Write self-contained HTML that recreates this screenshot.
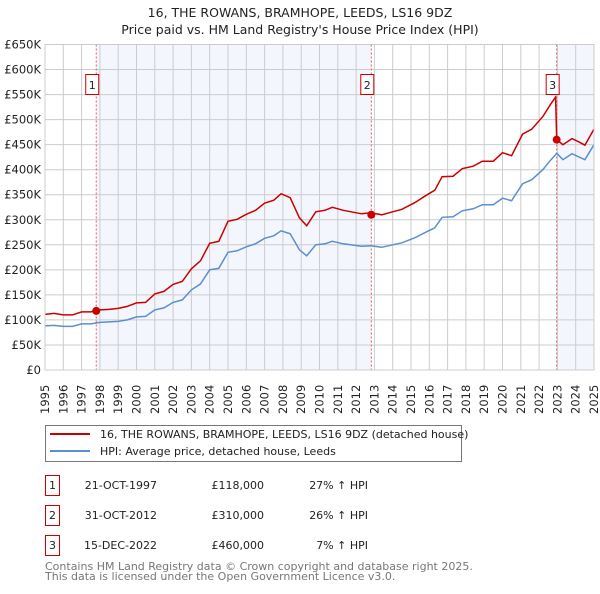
<!DOCTYPE html>
<html><head><meta charset="utf-8"><style>
body{margin:0;background:#fff;font-family:"DejaVu Sans","Liberation Sans",sans-serif;}
svg text{font-family:"DejaVu Sans","Liberation Sans",sans-serif;}
</style></head><body>
<svg id="c" width="600" height="590" xmlns="http://www.w3.org/2000/svg">
<text x="300" y="17" text-anchor="middle" font-size="12.5" fill="#222">16, THE ROWANS, BRAMHOPE, LEEDS, LS16 9DZ</text>
<text x="300" y="34" text-anchor="middle" font-size="12.5" fill="#222">Price paid vs. HM Land Registry's House Price Index (HPI)</text>
<g id="plot"></g>
<g>
<rect x="45.5" y="425.5" width="416" height="36" fill="#fff" stroke="#777"/>
<line x1="50" y1="434" x2="90" y2="434" stroke="#cc0000" stroke-width="2"/>
<text x="100" y="438" font-size="11" fill="#222">16, THE ROWANS, BRAMHOPE, LEEDS, LS16 9DZ (detached house)</text>
<line x1="50" y1="451" x2="90" y2="451" stroke="#5b8fd0" stroke-width="2"/>
<text x="100" y="455" font-size="11" fill="#222">HPI: Average price, detached house, Leeds</text>
</g>
<g id="table" font-size="11" fill="#222"></g>
<text x="45" y="570" font-size="11" fill="#777">Contains HM Land Registry data © Crown copyright and database right 2025.</text>
<text x="45" y="580" font-size="11" fill="#777">This data is licensed under the Open Government Licence v3.0.</text>
</svg>
<script>
const years=[1995,1995.5,1996,1996.5,1997,1997.5,1998,1998.5,1999,1999.5,2000,2000.5,2001,2001.5,2002,2002.5,2003,2003.5,2004,2004.5,2005,2005.5,2006,2006.5,2007,2007.5,2007.9,2008.4,2008.9,2009.3,2009.8,2010.3,2010.7,2011.3,2012.3,2012.8,2013.4,2014,2014.5,2015.2,2015.8,2016.3,2016.7,2017.3,2017.8,2018.4,2018.9,2019.5,2020,2020.5,2021.1,2021.6,2022.2,2022.6,2022.9,2022.96,2023.3,2023.8,2024.2,2024.5,2025];
const hpi=[88,89,87,87,92,92,95,96,97,100,106,107,120,124,135,140,160,172,200,203,235,238,246,252,263,268,278,272,240,228,250,252,257,252,247,248,245,250,254,264,275,284,305,306,318,322,330,330,343,338,372,380,400,418,430,433,420,432,425,420,450];
const price=[111,113,110,110,116,116,120,121,123,127,134,135,152,157,171,177,202,218,253,257,297,301,311,319,333,339,352,344,304,288,316,319,325,319,312,314,310,316,321,334,348,359,386,387,402,407,417,417,434,428,471,481,506,529,545,460,450,462,455,449,481];
const saleYears=[1997.8,2012.83,2022.96];
const saleValues=[118,310,460];
const saleDates=['21-OCT-1997','31-OCT-2012','15-DEC-2022'];
const salePrices=['£118,000','£310,000','£460,000'];
const salePcts=['27% ↑ HPI','26% ↑ HPI','7% ↑ HPI'];
const yTicks=[0,50,100,150,200,250,300,350,400,450,500,550,600,650];
const yTickLabels=['£0','£50K','£100K','£150K','£200K','£250K','£300K','£350K','£400K','£450K','£500K','£550K','£600K','£650K'];
const xTicks=[1995,1996,1997,1998,1999,2000,2001,2002,2003,2004,2005,2006,2007,2008,2009,2010,2011,2012,2013,2014,2015,2016,2017,2018,2019,2020,2021,2022,2023,2024,2025];

const NS='http://www.w3.org/2000/svg';
const L=45,R=594,T=44.5,B=370;
const sx=y=>L+(y-1995)/30*(R-L);
const sy=v=>B-v/650*(B-T);
const plot=document.getElementById('plot');
function mk(tag,attrs,parent){const e=document.createElementNS(NS,tag);for(const k in attrs)e.setAttribute(k,attrs[k]);(parent||plot).appendChild(e);return e;}

let e;
e=mk('rect',{x:L,y:T,width:R-L,height:B-T,fill:'#fff'});


e=mk('rect',{x:sx(saleYears[0]),y:T,width:sx(saleYears[1])-sx(saleYears[0]),height:B-T,fill:'#f3f6fd'});


e=mk('rect',{x:sx(saleYears[2]),y:T,width:R-sx(saleYears[2]),height:B-T,fill:'#f3f6fd'});



yTicks.forEach((v,i)=>{
 e=mk('line',{x1:L,x2:R,y1:sy(v),y2:sy(v),stroke:'#ccc','stroke-width':1});
 
 
 e=mk('text',{x:L-4,y:sy(v)+4,'text-anchor':'end','font-size':11.5,fill:'#222'});
 e.textContent=yTickLabels[i];
 
 
});
xTicks.forEach(y=>{
 e=mk('line',{x1:sx(y),x2:sx(y),y1:T,y2:B,stroke:'#ccc','stroke-width':1});
 
 
 e=mk('text',{transform:`translate(${sx(y)+4},414) rotate(-90)`,'font-size':11.5,fill:'#222'});
 e.textContent=y;
 
 
});
saleYears.forEach((y,i)=>{
 e=mk('line',{x1:sx(y),x2:sx(y),y1:T,y2:B,stroke:'#e06060','stroke-width':1,'stroke-dasharray':'2,2'});
 
 
});
const path=(vals)=>vals.map((v,i)=>(i?'L':'M')+sx(years[i]).toFixed(1)+','+sy(v).toFixed(1)).join('');
e=mk('path',{d:path(hpi),fill:'none',stroke:'#5b8fd0','stroke-width':1.5});


e=mk('path',{d:path(price),fill:'none',stroke:'#cc0000','stroke-width':1.5});


saleYears.forEach((y,i)=>{
 e=mk('circle',{cx:sx(y),cy:sy(saleValues[i]),r:4,fill:'#cc0000'});
 
 
 const bx=sx(y)-11, by=74;
 e=mk('rect',{x:bx+0.5,y:by+0.5,width:13,height:20,fill:'#fff',stroke:'#cc0000'});
 
 
 e=mk('text',{x:bx+7,y:by+15,'text-anchor':'middle','font-size':11,fill:'#222'});
 e.textContent=i+1;
 
 
});
e=mk('rect',{x:L,y:T,width:R-L,height:B-T,fill:'none',stroke:'#ccc'});



const tbl=document.getElementById('table');
saleDates.forEach((d,i)=>{
 const ry=475+i*30;
 e=mk('rect',{x:45.5,y:ry+0.5,width:14,height:20,fill:'#fff',stroke:'#cc0000'},tbl);
 
 
 e=mk('text',{x:52.5,y:ry+14,'text-anchor':'middle'},tbl);
 e.textContent=i+1;
 
 
 e=mk('text',{x:157,y:ry+14,'text-anchor':'end'},tbl);
 e.textContent=d;
 
 
 e=mk('text',{x:264,y:ry+14,'text-anchor':'end'},tbl);
 e.textContent=salePrices[i];
 
 
 e=mk('text',{x:368,y:ry+14,'text-anchor':'end'},tbl);
 e.textContent=salePcts[i];
 
 
});
</script>
</body></html>
